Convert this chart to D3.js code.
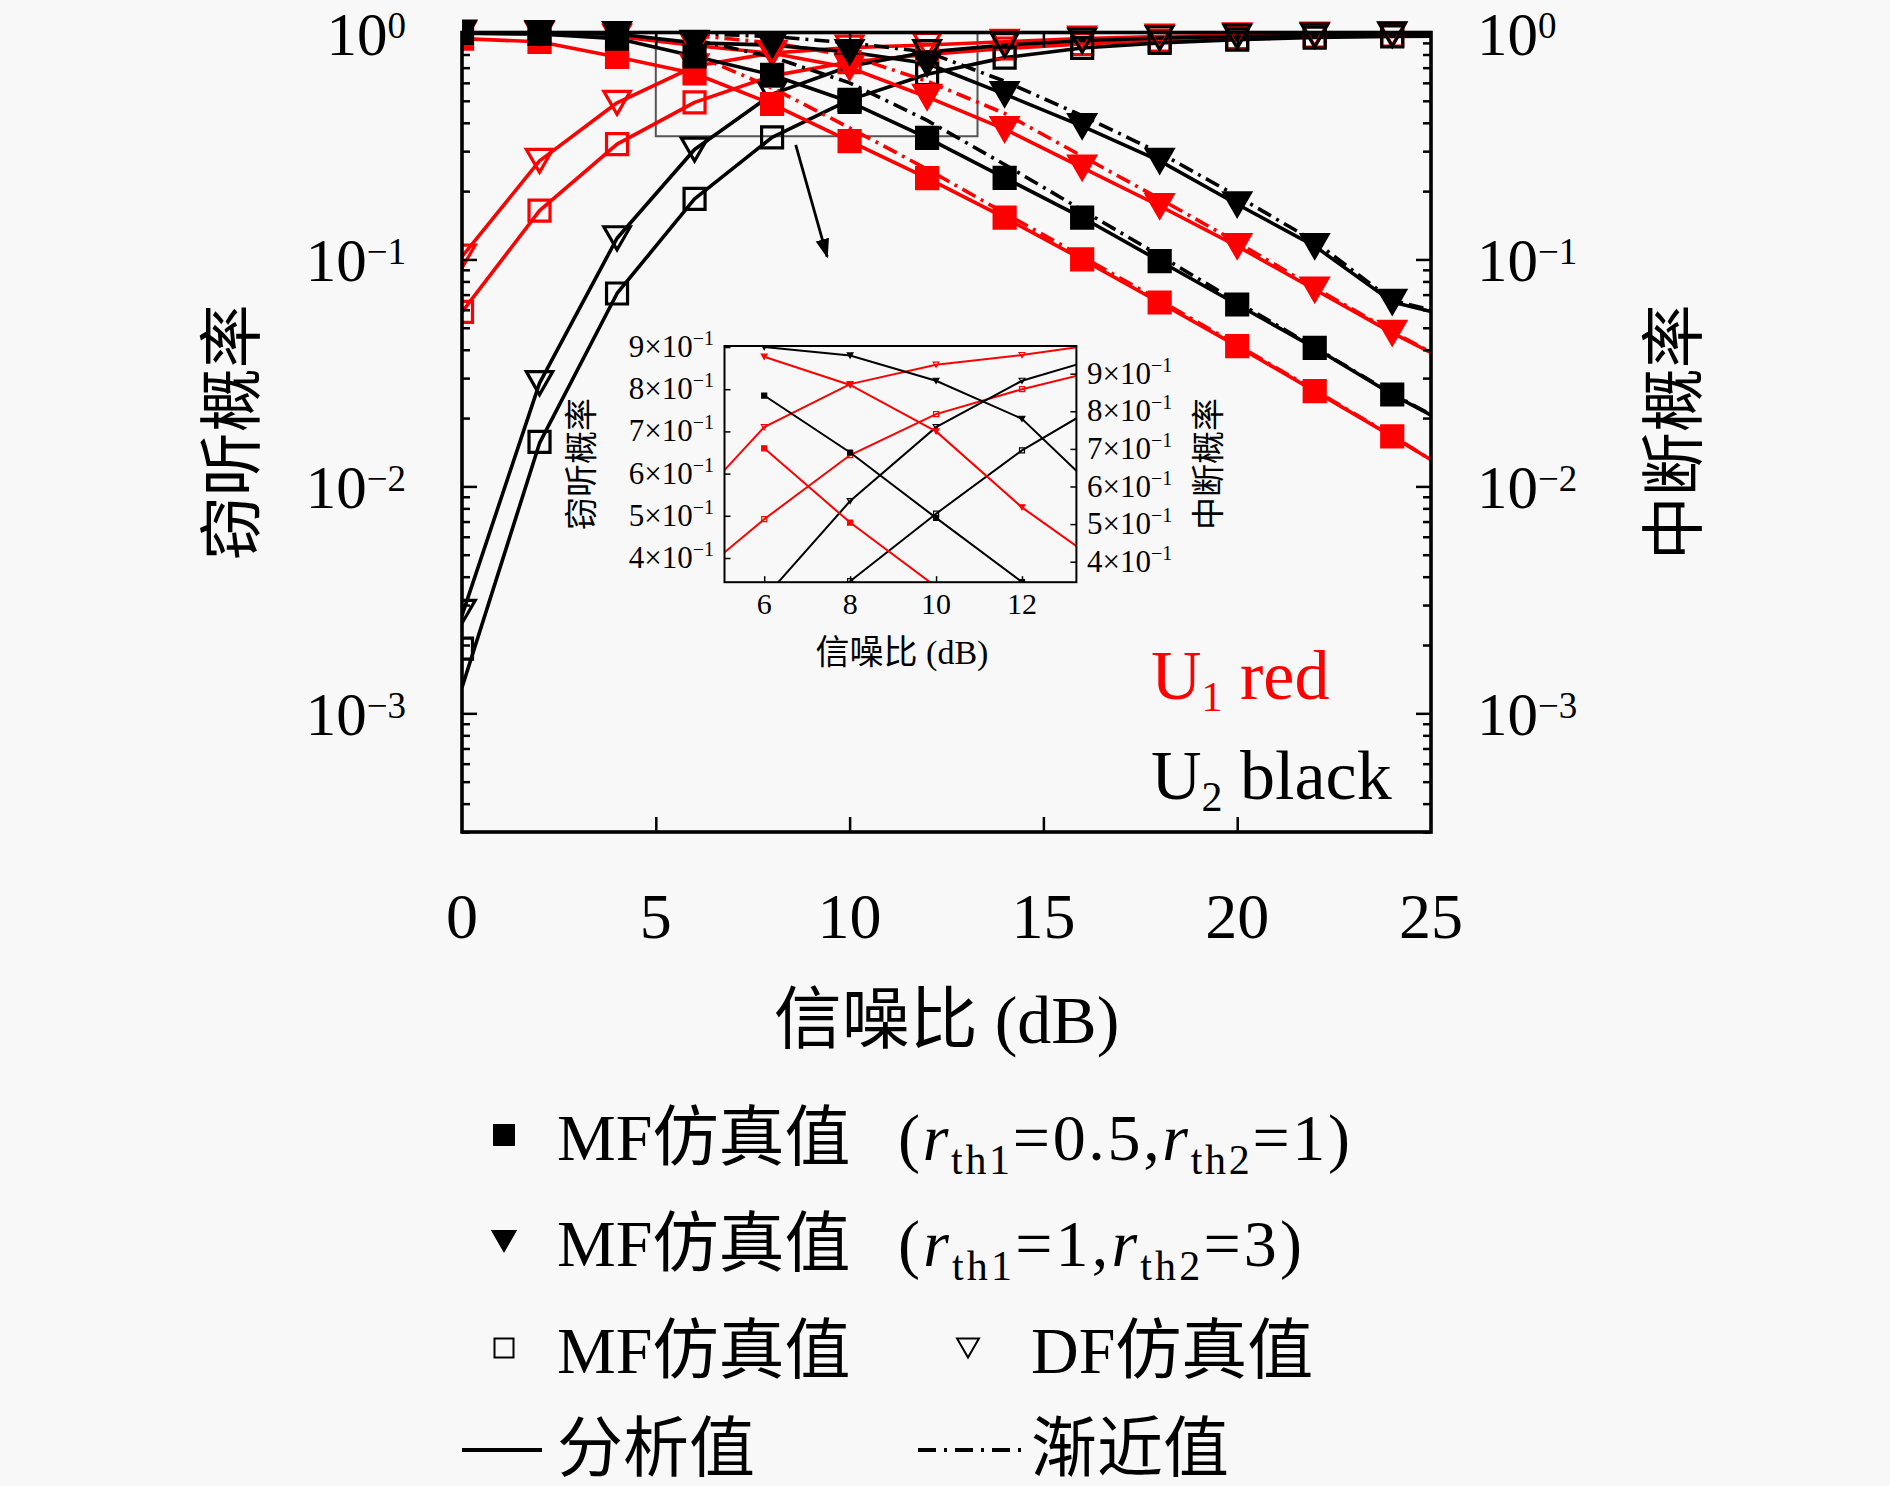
<!DOCTYPE html>
<html><head><meta charset="utf-8">
<script src="https://cdn.jsdelivr.net/npm/d3@7"></script>
<style>body{margin:0;background:#f8f8f8}svg{display:block}</style>
</head><body>
<svg id="c" width="1890" height="1486"></svg>
<script>
// ---------------- data ----------------
const snrSim  = [0,2,4,6,8,10,12,14,16,18,20,22,24];
const snrLine = [0,2,4,6,8,10,12,14,16,18,20,22,24,25];

// eavesdropping probability (窃听概率)
const dfU1Sim = [0.103,0.272,0.49,0.71,0.812,0.858,0.881,0.91,0.94,0.96,0.972,0.98,0.985];
const dfU1Ana = [0.103,0.272,0.49,0.71,0.812,0.858,0.881,0.91,0.94,0.96,0.972,0.98,0.985,0.987];
const mfU1Sim = [0.0587,0.164,0.322,0.492,0.644,0.741,0.8,0.85,0.89,0.92,0.945,0.96,0.97];
const mfU1Ana = [0.0587,0.164,0.322,0.492,0.644,0.741,0.8,0.85,0.89,0.92,0.945,0.96,0.97,0.973];
const dfU2Sim = [0.0028,0.0285,0.124,0.305,0.535,0.71,0.82,0.88,0.92,0.945,0.96,0.97,0.978];
const dfU2Ana = [0.0027,0.0285,0.124,0.305,0.535,0.71,0.82,0.88,0.92,0.945,0.96,0.97,0.978,0.98];
const mfU2Sim = [0.00193,0.0157,0.0708,0.185,0.345,0.505,0.655,0.775,0.855,0.9,0.93,0.95,0.96];
const mfU2Ana = [0.0013,0.0155,0.0708,0.185,0.345,0.505,0.655,0.775,0.855,0.9,0.93,0.95,0.96,0.963];

// outage probability (中断概率)
const outU1aSim = [0.94,0.91,0.78,0.66,0.484,0.332,0.228,0.153,0.1,0.0646,0.0415,0.0263,0.0166];
const outU1aAna = [0.94,0.91,0.78,0.66,0.484,0.332,0.228,0.153,0.1,0.0646,0.0415,0.0263,0.0166,0.0131];
const outU1aAsy = [null,null,null,0.8,0.57,0.38,0.25,0.16,0.103,0.066,0.042,0.0265,0.0167,0.0131];
const outU1bSim = [0.99,0.985,0.96,0.877,0.81,0.70,0.52,0.375,0.254,0.172,0.1145,0.0737,0.0475];
const outU1bAna = [0.99,0.985,0.96,0.877,0.81,0.70,0.52,0.375,0.254,0.172,0.1145,0.0737,0.0475,0.0388];
const outU1bAsy = [null,null,null,0.97,0.9,0.79,0.61,0.44,0.285,0.185,0.119,0.075,0.048,0.039];
const outU2aSim = [0.995,0.985,0.94,0.785,0.65,0.495,0.343,0.229,0.153,0.0984,0.0633,0.0408,0.0254];
const outU2aAna = [0.995,0.985,0.94,0.785,0.65,0.495,0.343,0.229,0.153,0.0984,0.0633,0.0408,0.0254,0.0206];
const outU2aAsy = [null,null,null,0.93,0.78,0.6,0.41,0.262,0.165,0.104,0.065,0.041,0.0256,0.0207];
const outU2bSim = [0.998,0.995,0.985,0.9,0.88,0.82,0.73,0.535,0.387,0.272,0.175,0.1145,0.065];
const outU2bAna = [0.998,0.995,0.985,0.9,0.88,0.82,0.73,0.535,0.387,0.272,0.175,0.1145,0.065,0.059];
const outU2bAsy = [null,null,null,0.99,0.96,0.9,0.82,0.61,0.43,0.295,0.19,0.12,0.066,0.06];

// ticks / labels
const xTicks = [0,5,10,15,20,25];
const yMajor = [1,0.1,0.01,0.001];
const yExp   = ["0","\u22121","\u22122","\u22123"];
const insetXTicks = [6,8,10,12];
const insetYTicks = [0.4,0.5,0.6,0.7,0.8,0.9];
const insetYDigits = ["4","5","6","7","8","9"];
const insetOutageStart = 6;
const zoomBox = [[5,1],[13.3,0.349]];
const arrowPts = [[8.61,0.32],[9.42,0.103]];

// ---------------- drawing ----------------
const RED = "#ff0000", BLK = "#000000", BG = "#f8f8f8";
const FONT = "'Liberation Serif','DejaVu Serif','Noto Sans CJK SC',serif";
const svg = d3.select("#c").style("font-family", FONT);
svg.append("rect").attr("width",1890).attr("height",1486).attr("fill",BG);

const L = 462, R = 1431, T = 32.5, B = 832;
const x = d3.scaleLinear().domain([0,25]).range([L,R]);
const y = d3.scaleLog().domain([3e-4,1]).range([B,T]);

const series = [
  {c:RED, m:"tri", f:false, sim:dfU1Sim, ana:dfU1Ana},
  {c:RED, m:"sq",  f:false, sim:mfU1Sim, ana:mfU1Ana},
  {c:BLK, m:"tri", f:false, sim:dfU2Sim, ana:dfU2Ana},
  {c:BLK, m:"sq",  f:false, sim:mfU2Sim, ana:mfU2Ana},
  {c:RED, m:"sq",  f:true,  sim:outU1aSim, ana:outU1aAna, asy:outU1aAsy},
  {c:RED, m:"tri", f:true,  sim:outU1bSim, ana:outU1bAna, asy:outU1bAsy},
  {c:BLK, m:"sq",  f:true,  sim:outU2aSim, ana:outU2aAna, asy:outU2aAsy},
  {c:BLK, m:"tri", f:true,  sim:outU2bSim, ana:outU2bAna, asy:outU2bAsy},
];

function mk(type, s){
  if(type==="sq") return `M${-s/2},${-s/2}h${s}v${s}h${-s}Z`;
  const w = s*1.15, h = s;
  return `M${-w/2},${-h/2}L${w/2},${-h/2}L0,${h/2}Z`;
}

const defs = svg.append("defs");
defs.append("clipPath").attr("id","clipMain").append("rect")
  .attr("x",L).attr("y",T-14).attr("width",R-L+14).attr("height",B-T+14);

const gPlot = svg.append("g").attr("clip-path","url(#clipMain)");

// zoom rectangle
gPlot.append("rect")
  .attr("x",x(zoomBox[0][0])).attr("y",y(zoomBox[0][1]))
  .attr("width",x(zoomBox[1][0])-x(zoomBox[0][0]))
  .attr("height",y(zoomBox[1][1])-y(zoomBox[0][1]))
  .attr("fill","none").attr("stroke","#555").attr("stroke-width",2);

const line = d3.line().defined(d=>d[1]!=null).x(d=>x(d[0])).y(d=>y(d[1]));
series.forEach(s=>{
  const pts = snrLine.map((v,i)=>[v,s.ana[i]]);
  gPlot.append("path").attr("d",line(pts)).attr("fill","none")
    .attr("stroke",s.c).attr("stroke-width",3.6).attr("stroke-linejoin","round");
  if(s.asy){
    const ap = snrLine.map((v,i)=>[v,s.asy[i]]);
    gPlot.append("path").attr("d",line(ap)).attr("fill","none")
      .attr("stroke",s.c).attr("stroke-width",3.6)
      .attr("stroke-dasharray","15,6,3,6");
  }
});
series.forEach(s=>{
  gPlot.selectAll(null).data(snrSim.map((v,i)=>[v,s.sim[i]])).enter()
    .append("path").attr("d",mk(s.m,s.m==="sq"?21:23))
    .attr("transform",d=>`translate(${x(d[0])},${y(d[1])})`)
    .attr("fill",s.f?s.c:"none").attr("stroke",s.c).attr("stroke-width",3.2);
});

// arrow
defs.append("marker").attr("id","ah").attr("viewBox","0 0 10 10").attr("refX",9).attr("refY",5)
  .attr("markerWidth",7).attr("markerHeight",7).attr("orient","auto-start-reverse")
  .append("path").attr("d","M0,1.5L10,5L0,8.5Z").attr("fill","#000");
svg.append("line")
  .attr("x1",x(arrowPts[0][0])).attr("y1",y(arrowPts[0][1]))
  .attr("x2",x(arrowPts[1][0])).attr("y2",y(arrowPts[1][1]))
  .attr("stroke","#000").attr("stroke-width",2.8).attr("marker-end","url(#ah)");

// axes ticks
const minor = [];
for(let k=-4;k<=-1;k++) for(let m=2;m<=9;m++){ const v=m*Math.pow(10,k); if(v>=3e-4 && v<1) minor.push(v); }
function ticks(axis, tr){
  const g = svg.append("g").attr("transform",tr).call(axis);
  g.select(".domain").remove();
  g.selectAll("line").attr("stroke","#000").attr("stroke-width",2.5);
  g.selectAll("text").remove();
}
ticks(d3.axisLeft(y).tickValues(yMajor).tickSize(-15), `translate(${L},0)`);
ticks(d3.axisLeft(y).tickValues(minor).tickSize(-8), `translate(${L},0)`);
ticks(d3.axisRight(y).tickValues(yMajor).tickSize(-15), `translate(${R},0)`);
ticks(d3.axisRight(y).tickValues(minor).tickSize(-8), `translate(${R},0)`);
ticks(d3.axisBottom(x).tickValues(xTicks.slice(1,-1)).tickSize(-15), `translate(0,${B})`);
ticks(d3.axisTop(x).tickValues(xTicks.slice(1,-1)).tickSize(-15), `translate(0,${T})`);

svg.append("rect").attr("x",L).attr("y",T).attr("width",R-L).attr("height",B-T)
  .attr("fill","none").attr("stroke","#000").attr("stroke-width",3.6);

// tick labels
function powLabel(g, xx, yy, exp, anchor, fs, sfs, up){
  const t = g.append("text").attr("x",xx).attr("y",yy).attr("text-anchor",anchor)
    .attr("font-size",fs).attr("fill","#000");
  t.append("tspan").text("10");
  t.append("tspan").attr("dy",-up).attr("font-size",sfs).text(exp);
  return t;
}
yMajor.forEach((v,i)=>{
  powLabel(svg, 406, y(v)+22, yExp[i], "end", 61, 37, 17);
  powLabel(svg, 1477, y(v)+22, yExp[i], "start", 61, 37, 17);
});
svg.selectAll(null).data(xTicks).enter().append("text")
  .attr("x",d=>x(d)).attr("y",938).attr("text-anchor","middle")
  .attr("font-size",64).text(d=>d);

svg.append("text").attr("x",(L+R)/2).attr("y",1043).attr("text-anchor","middle")
  .attr("font-size",68).text("信噪比 (dB)");
svg.append("text").attr("transform",`translate(254,${(T+B)/2}) rotate(-90)`)
  .attr("text-anchor","middle").attr("font-size",64).text("窃听概率");
svg.append("text").attr("transform",`translate(1696,${(T+B)/2}) rotate(-90)`)
  .attr("text-anchor","middle").attr("font-size",64).text("中断概率");

// U1 red / U2 black
const u1 = svg.append("text").attr("x",1151).attr("y",699).attr("font-size",70).attr("fill",RED);
u1.append("tspan").text("U");
u1.append("tspan").attr("dy",12).attr("font-size",42).text("1");
u1.append("tspan").attr("dy",-12).text(" red");
const u2 = svg.append("text").attr("x",1151).attr("y",799).attr("font-size",70).attr("fill",BLK);
u2.append("tspan").text("U");
u2.append("tspan").attr("dy",12).attr("font-size",42).text("2");
u2.append("tspan").attr("dy",-12).text(" black");

// ---------------- inset ----------------
const iL=724.5, iR=1076.4, iT=346, iB=582.2;
const ix  = d3.scaleLinear().domain([6,12]).range([764.2,1022]);
const iyL = d3.scaleLinear().domain([0.4,0.9]).range([558,347]);
const iyR = d3.scaleLinear().domain([0.4,0.9]).range([561.7,373.7]);
svg.append("rect").attr("x",iL).attr("y",iT).attr("width",iR-iL).attr("height",iB-iT).attr("fill",BG);
defs.append("clipPath").attr("id","clipInset").append("rect")
  .attr("x",iL).attr("y",iT).attr("width",iR-iL).attr("height",iB-iT);
const gI = svg.append("g").attr("clip-path","url(#clipInset)");
const iline = d3.line().x(d=>ix(d[0])).y(d=>iyL(d[1]));
series.forEach(s=>{
  let pts = snrLine.map((v,i)=>[v,s.ana[i]]);
  if(s.asy) pts = pts.filter(d=>d[0]>=insetOutageStart);
  gI.append("path").attr("d",iline(pts)).attr("fill","none")
    .attr("stroke",s.c).attr("stroke-width",2);
  gI.selectAll(null).data(snrSim.map((v,i)=>[v,s.sim[i]])).enter()
    .append("path").attr("d",mk(s.m,5))
    .attr("transform",d=>`translate(${ix(d[0])},${iyL(d[1])})`)
    .attr("fill",s.f?s.c:"none").attr("stroke",s.c).attr("stroke-width",1.2);
});
function iticks(axis, tr){
  const g = svg.append("g").attr("transform",tr).call(axis);
  g.select(".domain").remove();
  g.selectAll("line").attr("stroke","#000").attr("stroke-width",1.5);
  g.selectAll("text").remove();
}
iticks(d3.axisLeft(iyL).tickValues(insetYTicks).tickSize(-6), `translate(${iL},0)`);
iticks(d3.axisRight(iyR).tickValues(insetYTicks).tickSize(-6), `translate(${iR},0)`);
iticks(d3.axisBottom(ix).tickValues(insetXTicks).tickSize(-6), `translate(0,${iB})`);
svg.append("rect").attr("x",iL).attr("y",iT).attr("width",iR-iL).attr("height",iB-iT)
  .attr("fill","none").attr("stroke","#000").attr("stroke-width",2);

function insetLabel(xx, yy, d, anchor){
  const t = svg.append("text").attr("x",xx).attr("y",yy).attr("text-anchor",anchor).attr("font-size",31);
  t.append("tspan").text(d+"\u00d710");
  t.append("tspan").attr("dy",-12).attr("font-size",20).text("\u22121");
}
insetYTicks.forEach((v,i)=>{
  insetLabel(714, iyL(v)+10, insetYDigits[i], "end");
  insetLabel(1087, iyR(v)+10, insetYDigits[i], "start");
});
svg.selectAll(null).data(insetXTicks).enter().append("text")
  .attr("x",d=>ix(d)).attr("y",614).attr("text-anchor","middle").attr("font-size",30).text(d=>d);
svg.append("text").attr("x",902).attr("y",664).attr("text-anchor","middle").attr("font-size",34).text("信噪比 (dB)");
svg.append("text").attr("transform",`translate(593,464) rotate(-90)`).attr("text-anchor","middle")
  .attr("font-size",33).text("窃听概率");
svg.append("text").attr("transform",`translate(1220,464) rotate(-90)`).attr("text-anchor","middle")
  .attr("font-size",33).text("中断概率");

// ---------------- legend ----------------
const LF = 66;
const rows = [1135,1241,1348,1446];
function lgMarker(xx, yy, type, filled, size){
  svg.append("path").attr("d",mk(type,size)).attr("transform",`translate(${xx},${yy})`)
    .attr("fill",filled?"#000":"none").attr("stroke","#000").attr("stroke-width",2);
}
function lgText(xx, yy, txt){
  return svg.append("text").attr("x",xx).attr("y",yy+25).attr("font-size",LF).text(txt);
}
function paren(xx, yy, a, b, len){
  const t = svg.append("text").attr("x",xx).attr("y",yy+25).attr("font-size",LF)
    .attr("textLength",len).attr("lengthAdjust","spacing");
  t.append("tspan").text("(");
  t.append("tspan").attr("font-style","italic").text("r");
  t.append("tspan").attr("dy",14).attr("font-size",42).text("th1");
  t.append("tspan").attr("dy",-14).text("="+a+",");
  t.append("tspan").attr("font-style","italic").text("r");
  t.append("tspan").attr("dy",14).attr("font-size",42).text("th2");
  t.append("tspan").attr("dy",-14).text("="+b+")");
}
lgMarker(504,rows[0],"sq",true,20);
lgText(557,rows[0],"MF仿真值"); paren(898,rows[0],"0.5","1",452);
lgMarker(504,rows[1],"tri",true,20);
lgText(557,rows[1],"MF仿真值"); paren(898,rows[1],"1","3",404);
lgMarker(504,rows[2],"sq",false,19);
lgText(557,rows[2],"MF仿真值");
lgMarker(968,rows[2],"tri",false,19);
lgText(1031,rows[2],"DF仿真值");
svg.append("line").attr("x1",462).attr("x2",542).attr("y1",rows[3]+4).attr("y2",rows[3]+4)
  .attr("stroke","#000").attr("stroke-width",4);
lgText(557,rows[3],"分析值");
svg.append("line").attr("x1",918).attr("x2",1024).attr("y1",rows[3]+4).attr("y2",rows[3]+4)
  .attr("stroke","#000").attr("stroke-width",4).attr("stroke-dasharray","18,8,3,8");
lgText(1031,rows[3],"渐近值");
</script>
</body></html>
